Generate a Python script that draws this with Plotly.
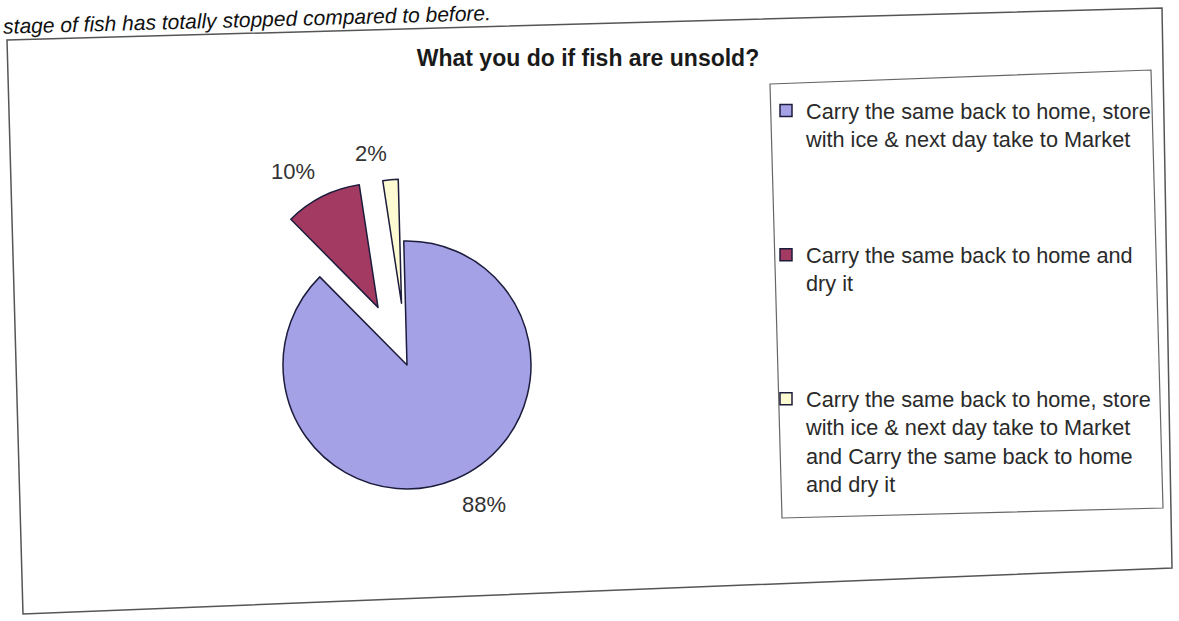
import math
import plotly.graph_objects as go

# Survey answers: what fishers do with fish that remain unsold
categories = [
    "Carry the same back to home, store<br>with ice & next day take to Market",
    "Carry the same back to home and<br>dry it",
    "Carry the same back to home, store<br>with ice & next day take to Market<br>and Carry the same back to home<br>and dry it",
]
shares = [88, 10, 2]
slice_colors = ["#a4a1e6", "#a23a62", "#fdfbd2"]
pulled = [0, 0.52, 0.5]

title_text = "What you do if fish are unsold?"
page_text = "stage of fish has totally stopped compared to before."

W, H = 1179, 621
FONT = "Liberation Sans, Arial, sans-serif"

# extra blank lines below each legend entry to spread the entries over the box
legend_gap_lines = [3, 3, 0]
legend_labels = [c + "<br> " * n for c, n in zip(categories, legend_gap_lines)]
plain_names = [c.replace("<br>", " ") for c in categories]


def px_x(v):
    return v / W


def px_y(v):
    return 1 - v / H


# pie centre and radius in pixels; the domain is enlarged to hold the pulled slices
cx, cy, r = 407, 365, 124
start_angle = -1.5
half = r * (1 + max(pulled))

fig = go.Figure(
    go.Pie(
        labels=legend_labels,
        values=shares,
        customdata=plain_names,
        sort=False,
        direction="clockwise",
        rotation=start_angle,
        pull=pulled,
        marker=dict(colors=slice_colors, line=dict(color="#1c1c3c", width=1.5)),
        textinfo="none",
        hovertemplate="%{customdata}<br>%{percent:.0%}<extra></extra>",
        domain=dict(
            x=[px_x(cx - half), px_x(cx + half)],
            y=[px_y(cy + half), px_y(cy - half)],
        ),
        showlegend=True,
    )
)

# percentage labels just outside each (pulled) slice, along its bisector
label_gap = 12
pct_annotations = []
total = sum(shares)
cum = 0.0
for v, p in zip(shares, pulled):
    frac = v / total
    mid = math.radians(start_angle + (cum + frac / 2) * 360)
    cum += frac
    dist = r * (1 + p) + label_gap
    lx = cx + math.sin(mid) * dist
    ly = cy - math.cos(mid) * dist
    pct_annotations.append(dict(
        text="{:.0f}%".format(100 * frac),
        xref="paper", yref="paper",
        x=px_x(lx), y=px_y(ly),
        xanchor="left" if math.sin(mid) > 0 else "right",
        yanchor="top" if ly > cy else "bottom",
        showarrow=False,
        font=dict(family=FONT, size=22, color="#333333"),
    ))

# chart area frame and legend frame (slightly skewed like a scanned page)
outer = [(7, 40), (1162, 8), (1172, 568), (23, 614)]
legend_box = [(770, 84), (1151, 70), (1163, 508), (782, 518)]


def quad_path(pts):
    s = "M {} {}".format(px_x(pts[0][0]), px_y(pts[0][1]))
    for x, y in pts[1:]:
        s += " L {} {}".format(px_x(x), px_y(y))
    return s + " Z"


fig.update_layout(
    width=W,
    height=H,
    margin=dict(l=0, r=0, t=0, b=0, autoexpand=False),
    paper_bgcolor="white",
    plot_bgcolor="white",
    font=dict(family=FONT, color="#222222"),
    title=dict(
        text="<b>" + title_text + "</b>",
        x=px_x(588),
        y=px_y(58),
        xanchor="center",
        yanchor="middle",
        font=dict(family=FONT, size=23, color="#1a1a1a"),
    ),
    legend=dict(
        x=px_x(766),
        y=px_y(90),
        xanchor="left",
        yanchor="top",
        valign="top",
        bgcolor="rgba(0,0,0,0)",
        borderwidth=0,
        font=dict(family=FONT, size=21.7, color="#2a2a2a"),
        traceorder="normal",
    ),
    shapes=[
        dict(type="path", xref="paper", yref="paper", path=quad_path(outer),
             line=dict(color="#555555", width=1.5)),
        dict(type="path", xref="paper", yref="paper", path=quad_path(legend_box),
             line=dict(color="#666666", width=1.2)),
    ],
    annotations=pct_annotations + [
        dict(
            text="<i>" + page_text + "</i>",
            xref="paper", yref="paper",
            x=px_x(247), y=px_y(19),
            xanchor="center", yanchor="middle",
            textangle=-1.6,
            showarrow=False,
            font=dict(family=FONT, size=21, color="#111111"),
        )
    ],
)

fig.write_html("out.html")
